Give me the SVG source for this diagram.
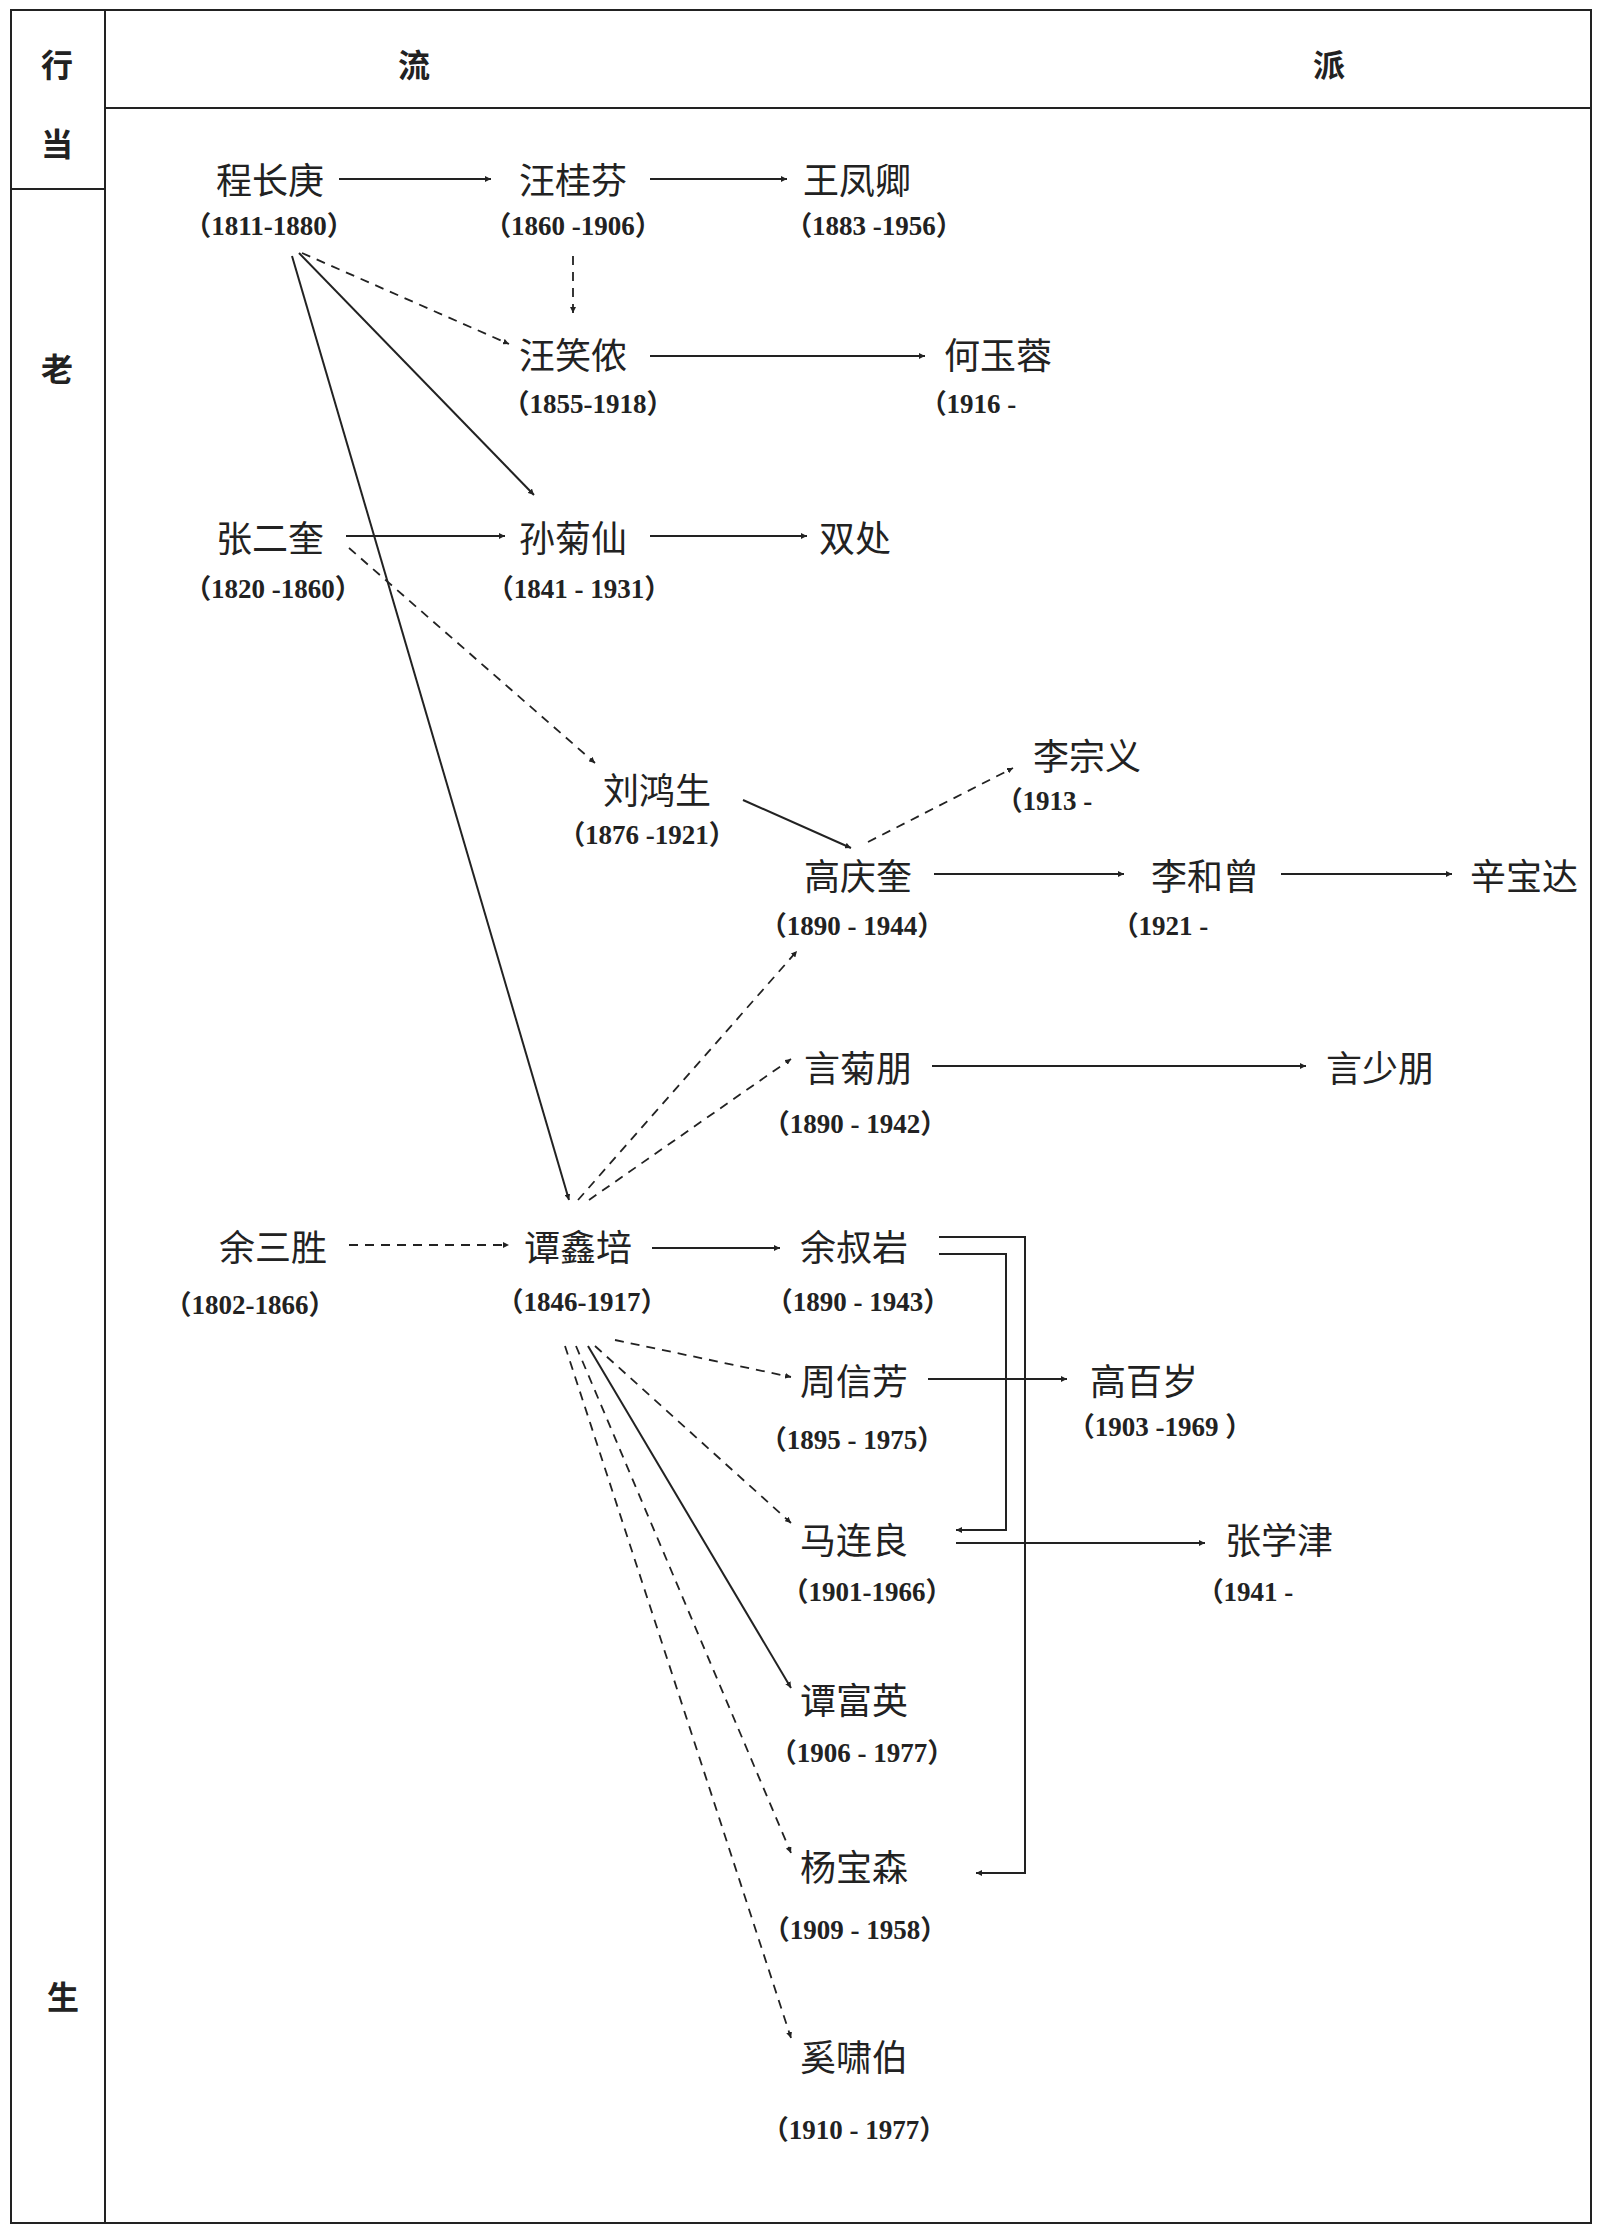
<svg xmlns="http://www.w3.org/2000/svg" width="1604" height="2231" viewBox="0 0 1604 2231">
<style>
.n{font-family:"Noto Sans CJK SC","Noto Sans",sans-serif;font-size:36px;fill:#222;text-anchor:middle;dominant-baseline:central}
.h{font-family:"Noto Sans CJK SC",sans-serif;font-size:32px;font-weight:bold;fill:#222;text-anchor:middle;dominant-baseline:central}
.d{font-family:"Liberation Serif","Noto Sans CJK SC",serif;font-size:27px;font-weight:bold;fill:#222;text-anchor:middle;dominant-baseline:central}
.s{stroke:#222;stroke-width:2;fill:none;marker-end:url(#a)}
.k{stroke:#222;stroke-width:1.8;fill:none;stroke-dasharray:9 7;marker-end:url(#a)}
.f{stroke:#222;stroke-width:2;fill:none}
</style>
<defs><marker id="a" viewBox="0 0 10 10" refX="10" refY="5" markerWidth="6" markerHeight="6" markerUnits="userSpaceOnUse" orient="auto"><path d="M0,0L10,5L0,10z" fill="#222"/></marker></defs>
<rect width="1604" height="2231" fill="#fff"/>
<g id="frame">
<rect class="f" x="11" y="10" width="1580" height="2213"/>
<line class="f" x1="105" y1="10" x2="105" y2="2223"/>
<line class="f" x1="105" y1="108" x2="1591" y2="108"/>
<line class="f" x1="11" y1="189" x2="105" y2="189"/>
<text class="h" x="57" y="63">行</text><text class="h" x="57" y="142">当</text>
<text class="h" x="57" y="367">老</text><text class="h" x="63" y="1995">生</text>
<text class="h" x="414" y="63">流</text><text class="h" x="1329" y="63">派</text>
</g>
<g id="connectors">
<line class="s" x1="339" y1="179" x2="491" y2="179"/>
<line class="s" x1="650" y1="179" x2="787" y2="179"/>
<line class="k" x1="573" y1="256" x2="573" y2="313"/>
<line class="k" x1="302" y1="253" x2="509" y2="344"/>
<line class="s" x1="299" y1="253" x2="534" y2="495"/>
<line class="s" x1="292" y1="256" x2="569" y2="1200"/>
<line class="s" x1="650" y1="356" x2="925" y2="356"/>
<line class="s" x1="346" y1="536" x2="505" y2="536"/>
<line class="s" x1="650" y1="536" x2="807" y2="536"/>
<line class="k" x1="349" y1="548" x2="595" y2="763"/>
<line class="s" x1="743" y1="800" x2="851" y2="848"/>
<line class="k" x1="868" y1="842" x2="1013" y2="768"/>
<line class="s" x1="934" y1="874" x2="1124" y2="874"/>
<line class="s" x1="1281" y1="874" x2="1452" y2="874"/>
<line class="k" x1="578" y1="1200" x2="797" y2="951"/>
<line class="k" x1="589" y1="1200" x2="791" y2="1059"/>
<line class="s" x1="932" y1="1066" x2="1306" y2="1066"/>
<line class="k" x1="349" y1="1245" x2="509" y2="1245"/>
<line class="s" x1="652" y1="1248" x2="780" y2="1248"/>
<polyline class="s" points="939,1237 1025,1237 1025,1873 976,1873"/>
<polyline class="s" points="939,1254 1006,1254 1006,1530 956,1530"/>
<line class="s" x1="928" y1="1379" x2="1067" y2="1379"/>
<line class="s" x1="956" y1="1543" x2="1205" y2="1543"/>
<line class="k" x1="615" y1="1340" x2="791" y2="1377"/>
<line class="k" x1="595" y1="1346" x2="791" y2="1523"/>
<line class="s" x1="588" y1="1346" x2="791" y2="1688"/>
<line class="k" x1="576" y1="1346" x2="791" y2="1853"/>
<line class="k" x1="565" y1="1346" x2="791" y2="2038"/>
</g>
<g id="n1"><text class="n" x="270" y="178">程长庚</text><text class="d" x="269" y="226">（1811-1880）</text></g>
<g id="n2"><text class="n" x="573" y="178">汪桂芬</text><text class="d" x="573" y="226">（1860 -1906）</text></g>
<g id="n3"><text class="n" x="857" y="178">王凤卿</text><text class="d" x="874" y="226">（1883 -1956）</text></g>
<g id="n4"><text class="n" x="573" y="353">汪笑侬</text><text class="d" x="588" y="404">（1855-1918）</text></g>
<g id="n5"><text class="n" x="998" y="353">何玉蓉</text><text class="d" x="968" y="404">（1916 -</text></g>
<g id="n6"><text class="n" x="270" y="536">张二奎</text><text class="d" x="273" y="589">（1820 -1860）</text></g>
<g id="n7"><text class="n" x="573" y="536">孙菊仙</text><text class="d" x="579" y="589">（1841 - 1931）</text></g>
<g id="n8"><text class="n" x="855" y="536">双处</text></g>
<g id="n9"><text class="n" x="657" y="788">刘鸿生</text><text class="d" x="647" y="835">（1876 -1921）</text></g>
<g id="n10"><text class="n" x="1087" y="754">李宗义</text><text class="d" x="1044" y="801">（1913 -</text></g>
<g id="n11"><text class="n" x="858" y="874">高庆奎</text><text class="d" x="852" y="926">（1890 - 1944）</text></g>
<g id="n12"><text class="n" x="1205" y="874">李和曾</text><text class="d" x="1160" y="926">（1921 -</text></g>
<g id="n13"><text class="n" x="1524" y="874">辛宝达</text></g>
<g id="n14"><text class="n" x="858" y="1066">言菊朋</text><text class="d" x="855" y="1124">（1890 - 1942）</text></g>
<g id="n15"><text class="n" x="1380" y="1066">言少朋</text></g>
<g id="n16"><text class="n" x="273" y="1245">余三胜</text><text class="d" x="250" y="1305">（1802-1866）</text></g>
<g id="n17"><text class="n" x="578" y="1245">谭鑫培</text><text class="d" x="582" y="1302">（1846-1917）</text></g>
<g id="n18"><text class="n" x="854" y="1245">余叔岩</text><text class="d" x="858" y="1302">（1890 - 1943）</text></g>
<g id="n19"><text class="n" x="854" y="1379">周信芳</text><text class="d" x="852" y="1440">（1895 - 1975）</text></g>
<g id="n20"><text class="n" x="1144" y="1379">高百岁</text><text class="d" x="1160" y="1427">（1903  -1969  ）</text></g>
<g id="n21"><text class="n" x="854" y="1538">马连良</text><text class="d" x="867" y="1592">（1901-1966）</text></g>
<g id="n22"><text class="n" x="1279" y="1538">张学津</text><text class="d" x="1245" y="1592">（1941  -</text></g>
<g id="n23"><text class="n" x="854" y="1698">谭富英</text><text class="d" x="862" y="1753">（1906 - 1977）</text></g>
<g id="n24"><text class="n" x="854" y="1865">杨宝森</text><text class="d" x="855" y="1930">（1909 - 1958）</text></g>
<g id="n25"><text class="n" x="854" y="2055">奚啸伯</text><text class="d" x="854" y="2130">（1910 - 1977）</text></g>
</svg>
